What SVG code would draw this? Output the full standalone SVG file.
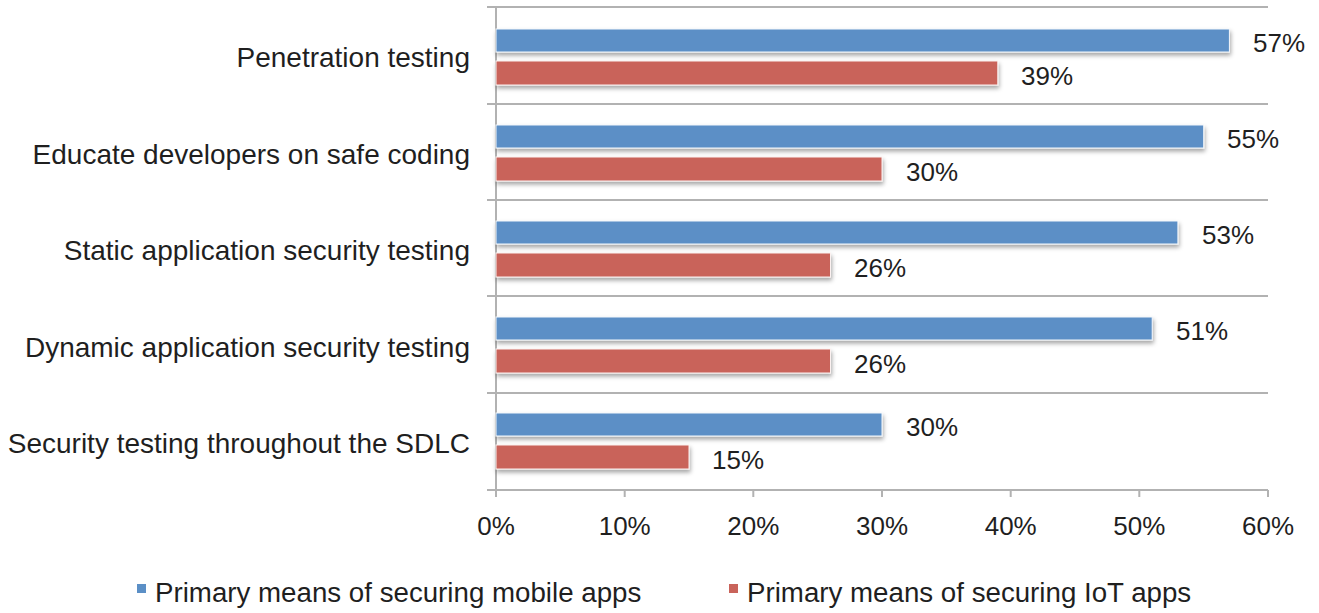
<svg xmlns="http://www.w3.org/2000/svg" width="1319" height="613" viewBox="0 0 1319 613">
  <defs>
    <filter id="barShadow" x="-5%" y="-40%" width="110%" height="200%">
      <feDropShadow dx="1" dy="3" stdDeviation="2.2" flood-color="#000000" flood-opacity="0.35"/>
    </filter>
  </defs>
  <style>
    text { font-family: "Liberation Sans", Arial, Helvetica, sans-serif; fill: #1f1f1f; }
    .cat { font-size: 28px; text-anchor: end; }
    .val { font-size: 26px; }
    .tick { font-size: 26px; text-anchor: middle; }
    .legend { font-size: 27.7px; }
    .grid { stroke: #b2b2b2; stroke-width: 2; fill: none; }
    .mobile { fill: #5b8fc6; stroke: #f4f7fb; stroke-width: 1; filter: url(#barShadow); }
    .iot { fill: #c9635a; stroke: #fbf1f0; stroke-width: 1; filter: url(#barShadow); }
  </style>
  <rect width="1319" height="613" fill="#ffffff"/>

  <!-- gridlines and axes -->
  <g id="axes">
    <line class="grid" x1="487" y1="7" x2="1268" y2="7"/>
    <line class="grid" x1="487" y1="104" x2="1268" y2="104"/>
    <line class="grid" x1="487" y1="200" x2="1268" y2="200"/>
    <line class="grid" x1="487" y1="296" x2="1268" y2="296"/>
    <line class="grid" x1="487" y1="393" x2="1268" y2="393"/>
    <line class="grid" x1="487" y1="490" x2="1268" y2="490"/>
    <line class="grid" x1="496" y1="7" x2="496" y2="497"/>
    <line class="grid" x1="624.7" y1="490" x2="624.7" y2="497"/>
    <line class="grid" x1="753.3" y1="490" x2="753.3" y2="497"/>
    <line class="grid" x1="882" y1="490" x2="882" y2="497"/>
    <line class="grid" x1="1010.7" y1="490" x2="1010.7" y2="497"/>
    <line class="grid" x1="1139.3" y1="490" x2="1139.3" y2="497"/>
    <line class="grid" x1="1268" y1="490" x2="1268" y2="497"/>
    <text class="tick" x="496" y="535">0%</text>
    <text class="tick" x="624.7" y="535">10%</text>
    <text class="tick" x="753.3" y="535">20%</text>
    <text class="tick" x="882" y="535">30%</text>
    <text class="tick" x="1010.7" y="535">40%</text>
    <text class="tick" x="1139.3" y="535">50%</text>
    <text class="tick" x="1268" y="535">60%</text>
  </g>

  <!-- categories: 1% = 12.867px from x=496 -->
  <g id="penetration-testing">
    <text class="cat" x="470" y="67">Penetration testing</text>
    <rect class="mobile" x="496" y="29" width="733.4" height="23"/>
    <rect class="iot" x="496" y="61" width="501.8" height="24"/>
    <text class="val" x="1253" y="52">57%</text>
    <text class="val" x="1021" y="85">39%</text>
  </g>
  <g id="educate-developers">
    <text class="cat" x="470" y="164">Educate developers on safe coding</text>
    <rect class="mobile" x="496" y="125" width="707.7" height="23"/>
    <rect class="iot" x="496" y="157" width="386" height="24"/>
    <text class="val" x="1227" y="148">55%</text>
    <text class="val" x="906" y="181">30%</text>
  </g>
  <g id="static-testing">
    <text class="cat" x="470" y="260">Static application security testing</text>
    <rect class="mobile" x="496" y="221" width="681.9" height="23"/>
    <rect class="iot" x="496" y="253" width="334.5" height="24"/>
    <text class="val" x="1202" y="244">53%</text>
    <text class="val" x="854" y="277">26%</text>
  </g>
  <g id="dynamic-testing">
    <text class="cat" x="470" y="357">Dynamic application security testing</text>
    <rect class="mobile" x="496" y="317" width="656.2" height="23"/>
    <rect class="iot" x="496" y="349" width="334.5" height="24"/>
    <text class="val" x="1176" y="340">51%</text>
    <text class="val" x="854" y="373">26%</text>
  </g>
  <g id="sdlc-testing">
    <text class="cat" x="470" y="453">Security testing throughout the SDLC</text>
    <rect class="mobile" x="496" y="413" width="386" height="23"/>
    <rect class="iot" x="496" y="445" width="193" height="24"/>
    <text class="val" x="906" y="436">30%</text>
    <text class="val" x="712" y="469">15%</text>
  </g>

  <!-- legend -->
  <g id="legend">
    <rect x="137" y="584" width="9" height="9" fill="#5b8fc6"/>
    <text class="legend" x="155" y="602">Primary means of securing mobile apps</text>
    <rect x="729" y="584" width="9" height="9" fill="#c9635a"/>
    <text class="legend" x="747" y="602">Primary means of securing IoT apps</text>
  </g>
</svg>
